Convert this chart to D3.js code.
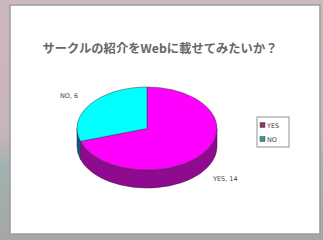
<!DOCTYPE html>
<html><head><meta charset="utf-8">
<script src="https://cdn.jsdelivr.net/npm/d3@7"></script>
<style>html,body{margin:0;padding:0;background:#c8b9be;}svg{display:block;}</style>
</head><body>
<script>
const title = "サークルの紹介をWebに載せてみたいか？";
const categories = ["YES", "NO"];
const values = [14, 6];
const topColors = ["#ff00ff", "#00ffff"];
const sideColors = ["#8e0a8e", "#0a5f7a"];
const legendColors = ["#99336a", "#339999"];

const W = 323, H = 240;
const svg = d3.select("body").append("svg").attr("width", W).attr("height", H);

const defs = svg.append("defs");
const lg = defs.append("linearGradient").attr("id","edge").attr("x1",0).attr("y1",0).attr("x2",0).attr("y2",1);
lg.append("stop").attr("offset","0%").attr("stop-color","#cdb8bd");
lg.append("stop").attr("offset","55%").attr("stop-color","#c8b4bc");
lg.append("stop").attr("offset","70%").attr("stop-color","#9fb3b0");
lg.append("stop").attr("offset","100%").attr("stop-color","#a6a6a6");
svg.append("rect").attr("width", W).attr("height", H).attr("fill", "url(#edge)");
svg.append("rect").attr("x", 10).attr("y", 5).attr("width", 310).attr("height", 229)
  .attr("fill", "#fff").attr("stroke", "#9a9a9a").attr("stroke-width", 1.5);

svg.append("text").attr("x", 160).attr("y", 53).attr("text-anchor", "middle")
  .attr("font-family", "'Noto Sans CJK JP', sans-serif").attr("font-size", 12).attr("font-weight", "bold")
  .attr("textLength", 235).attr("lengthAdjust", "spacingAndGlyphs")
  .attr("fill", "#666").text(title);

const cx = 147, cy = 128.5, rx = 70, ry = 41.5, depth = 18;
const pie = d3.pie().sort(null).value(d => d)(values);
const px = a => cx + rx * Math.sin(a);
const py = (a, dy = 0) => cy + dy - ry * Math.cos(a);

function sidePath(a0, a1) {
  const s = Math.max(a0, Math.PI / 2), e = Math.min(a1, 3 * Math.PI / 2);
  if (e <= s) return null;
  const large = (e - s) > Math.PI ? 1 : 0;
  return `M${px(s)},${py(s)} A${rx},${ry} 0 ${large} 1 ${px(e)},${py(e)} L${px(e)},${py(e, depth)} A${rx},${ry} 0 ${large} 0 ${px(s)},${py(s, depth)} Z`;
}
function topPath(a0, a1) {
  const large = (a1 - a0) > Math.PI ? 1 : 0;
  return `M${cx},${cy} L${px(a0)},${py(a0)} A${rx},${ry} 0 ${large} 1 ${px(a1)},${py(a1)} Z`;
}
const g = svg.append("g");
pie.forEach((d, i) => {
  const p = sidePath(d.startAngle, d.endAngle);
  if (p) g.append("path").attr("d", p).attr("fill", sideColors[i]).attr("stroke", "#3a1040").attr("stroke-width", 0.5);
});
pie.forEach((d, i) => {
  g.append("path").attr("d", topPath(d.startAngle, d.endAngle)).attr("fill", topColors[i])
    .attr("stroke", "#333").attr("stroke-width", 0.5);
});

const lblFont = "'DejaVu Sans', sans-serif";
svg.append("text").attr("x", 60).attr("y", 97.5).attr("font-family", lblFont).attr("font-size", 6.5)
  .attr("fill", "#444").text(categories[1] + ", " + values[1]);
svg.append("text").attr("x", 213).attr("y", 180.5).attr("font-family", lblFont).attr("font-size", 6.5)
  .attr("fill", "#444").text(categories[0] + ", " + values[0]);

const lgG = svg.append("g");
lgG.append("rect").attr("x", 257).attr("y", 117).attr("width", 32).attr("height", 30)
  .attr("fill", "#fff").attr("stroke", "#777").attr("stroke-width", 0.8);
const ly = d3.scalePoint().domain(categories).range([125, 139]);
categories.forEach((c, i) => {
  lgG.append("rect").attr("x", 260).attr("y", ly(c) - 2.5).attr("width", 5).attr("height", 5)
    .attr("fill", legendColors[i]).attr("stroke", "#333").attr("stroke-width", 0.4);
  lgG.append("text").attr("x", 267).attr("y", ly(c) + 2.5).attr("font-family", lblFont)
    .attr("font-size", 6.5).attr("fill", "#444").text(c);
});
</script>
</body></html>
